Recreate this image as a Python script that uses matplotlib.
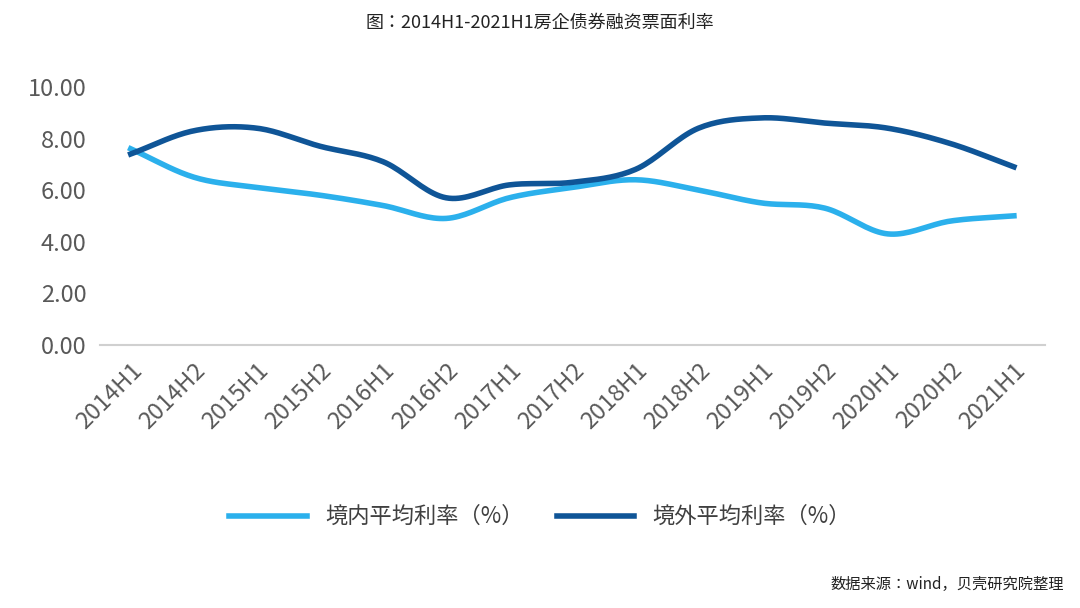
import numpy as np
import matplotlib
matplotlib.use("Agg")
import matplotlib.pyplot as plt
from matplotlib import font_manager

cjk = [f.name for f in font_manager.fontManager.ttflist if "CJK" in f.name]
cjk_name = "Noto Sans CJK SC" if "Noto Sans CJK SC" in cjk else (cjk[0] if cjk else "DejaVu Sans")
plt.rcParams["font.family"] = "sans-serif"
plt.rcParams["font.sans-serif"] = [cjk_name, "DejaVu Sans"]

periods = ["2014H1", "2014H2", "2015H1", "2015H2", "2016H1", "2016H2", "2017H1", "2017H2",
           "2018H1", "2018H2", "2019H1", "2019H2", "2020H1", "2020H2", "2021H1"]
domestic = [7.6, 6.5, 6.1, 5.8, 5.4, 4.9, 5.7, 6.1, 6.4, 6.0, 5.5, 5.3, 4.3, 4.8, 5.0]
overseas = [7.4, 8.3, 8.4, 7.7, 7.1, 5.7, 6.2, 6.3, 6.8, 8.4, 8.8, 8.6, 8.4, 7.8, 6.9]


def smooth(y, n=20):
    # Catmull-Rom style cubic Hermite through the points
    y = np.asarray(y, float)
    x = np.arange(len(y))
    m = np.gradient(y)
    xs, ys = [], []
    for i in range(len(y) - 1):
        t = np.linspace(0, 1, n, endpoint=False)
        h00 = 2 * t**3 - 3 * t**2 + 1
        h10 = t**3 - 2 * t**2 + t
        h01 = -2 * t**3 + 3 * t**2
        h11 = t**3 - t**2
        xs.append(x[i] + t)
        ys.append(h00 * y[i] + h10 * m[i] + h01 * y[i + 1] + h11 * m[i + 1])
    xs.append([x[-1]])
    ys.append([y[-1]])
    return np.concatenate(xs), np.concatenate(ys)


fig = plt.figure(figsize=(10.8, 6.08), dpi=100)
ax = fig.add_axes([0.093, 0.433, 0.875, 0.424])

xd, yd = smooth(domestic)
xo, yo = smooth(overseas)
ax.plot(xd, yd, color="#2bb0ec", lw=4, label="境内平均利率（%）")
ax.plot(xo, yo, color="#0f5597", lw=4, label="境外平均利率（%）")

ax.set_xlim(-0.48, 14.5)
ax.set_ylim(0, 10)
ax.set_yticks(np.arange(0, 10.01, 2))
ax.set_yticklabels([f"{v:.2f}" for v in np.arange(0, 10.01, 2)], fontsize=17, color="#595959")
ax.set_xticks(range(len(periods)))
ax.set_xticklabels(periods, rotation=45, ha="right", rotation_mode="anchor", fontsize=17, color="#595959")
for s in ["top", "right", "left"]:
    ax.spines[s].set_visible(False)
ax.spines["bottom"].set_color("#d0d0d0")
ax.spines["bottom"].set_linewidth(1.5)
ax.tick_params(length=0, pad=10)

fig.text(0.5, 0.962, "图：2014H1-2021H1房企债券融资票面利率", ha="center", va="center", fontsize=13, color="#222222")
fig.legend(loc="center", bbox_to_anchor=(0.5, 0.15), ncol=2, frameon=False, fontsize=16,
           handlelength=3.5, columnspacing=1.5, labelcolor="#404040")
fig.text(0.985, 0.038, "数据来源：wind，贝壳研究院整理", ha="right", va="center", fontsize=11, color="#222222")

fig.savefig("out.png", dpi=100)
